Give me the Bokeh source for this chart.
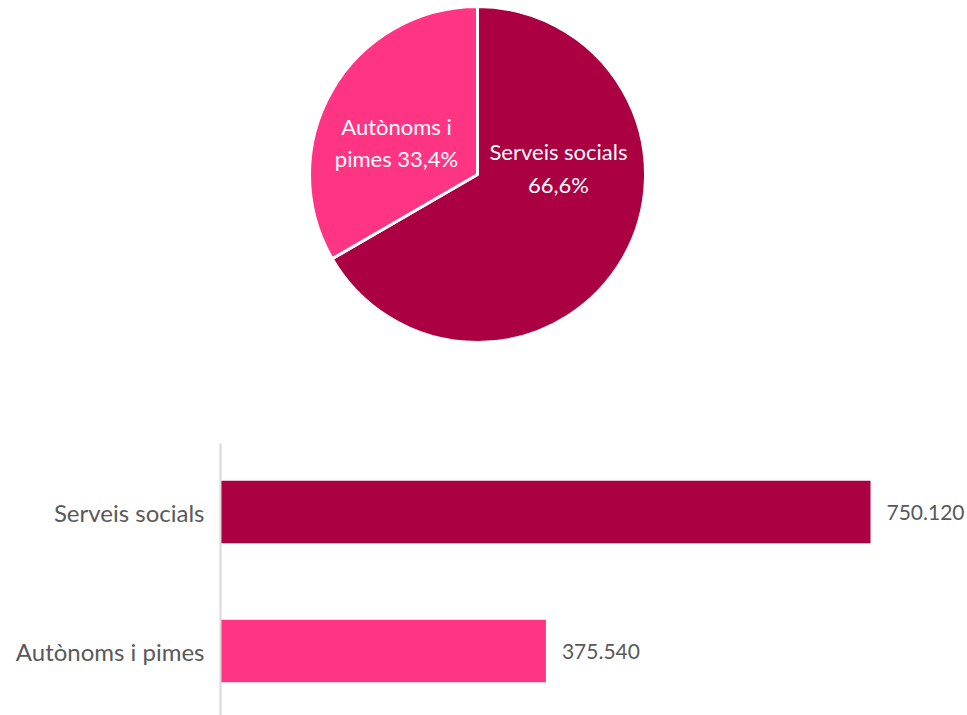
import math
from bokeh.plotting import figure
from bokeh.layouts import column
from bokeh.models import Range1d, FixedTicker, ColumnDataSource
from bokeh.core.properties import value
from bokeh.embed import file_html
from bokeh.resources import INLINE

categories = ["Serveis socials", "Autònoms i pimes"]
amounts = [750120, 375540]
colors = ["#AB0042", "#FF3584"]

FONT = "Lato"
total = sum(amounts)
LEFT = 220      # left border shared by both figures (column aligns frames)
W = 967

# ---------- Pie ----------
H1 = 375
p1 = figure(width=W, height=H1, output_backend="svg", toolbar_location=None,
            x_range=Range1d(LEFT, W), y_range=Range1d(0, H1),
            min_border_left=LEFT, min_border_right=0, min_border_top=0,
            min_border_bottom=0)
p1.axis.visible = False
p1.grid.visible = False
p1.outline_line_color = None

cx, cy, r = 477, H1 - 174, 168
start = math.pi / 2
starts, ends = [], []
for a in amounts:
    end = start - a / total * 2 * math.pi
    starts.append(start)
    ends.append(end)
    start = end
src1 = ColumnDataSource(dict(s=starts, e=ends, c=colors))
p1.wedge(x=cx, y=cy, radius=r, start_angle="e", end_angle="s", fill_color="c",
         line_color="white", line_width=3, source=src1)

pct = [f"{a / total * 100:.1f}".replace(".", ",") + "%" for a in amounts]
lab_txt = [f"{categories[0]}\n{pct[0]}", f"Autònoms i\npimes {pct[1]}"]
lab_x = [cx + 81, cx - 81]
lab_y = [cy + 6.5, cy + 32]
p1.text(x=lab_x, y=lab_y, text=lab_txt, text_color="white",
        text_font=value(FONT), text_font_size="22px", text_align="center",
        text_baseline="middle", text_line_height=1.2)

# ---------- Bars ----------
H2 = 715 - H1
ypos = [len(categories) - i for i in range(len(categories))]  # Serveis on top
x_end = (W - LEFT) * amounts[0] / 650
p2 = figure(width=W, height=H2, output_backend="svg", toolbar_location=None,
            x_range=Range1d(0, x_end), y_range=Range1d(0.536, 2.493),
            min_border_left=LEFT, min_border_right=0, min_border_top=68,
            min_border_bottom=0)
p2.hbar(y=ypos, right=amounts, height=0.45, left=0, fill_color=colors,
        line_color=None)
vals = [f"{a:,}".replace(",", ".") for a in amounts]
p2.text(x=amounts, y=ypos, text=vals, x_offset=16, text_color="#595959",
        text_font=value(FONT), text_font_size="21px", text_baseline="middle",
        text_align="left")
p2.xaxis.visible = False
p2.grid.visible = False
p2.outline_line_color = None
ya = p2.yaxis[0]
ya.ticker = FixedTicker(ticks=ypos)
ya.major_label_overrides = {y: c for y, c in zip(ypos, categories)}
ya.major_tick_line_color = None
ya.minor_tick_line_color = None
ya.major_tick_out = 0
ya.major_tick_in = 0
ya.major_label_standoff = 16
ya.axis_line_color = "#D9D9D9"
ya.axis_line_width = 2
ya.major_label_text_font = FONT
ya.major_label_text_font_size = "24px"
ya.major_label_text_color = "#595959"

layout = column(p1, p2, spacing=0)
open("out.html", "w").write(file_html(layout, INLINE))
